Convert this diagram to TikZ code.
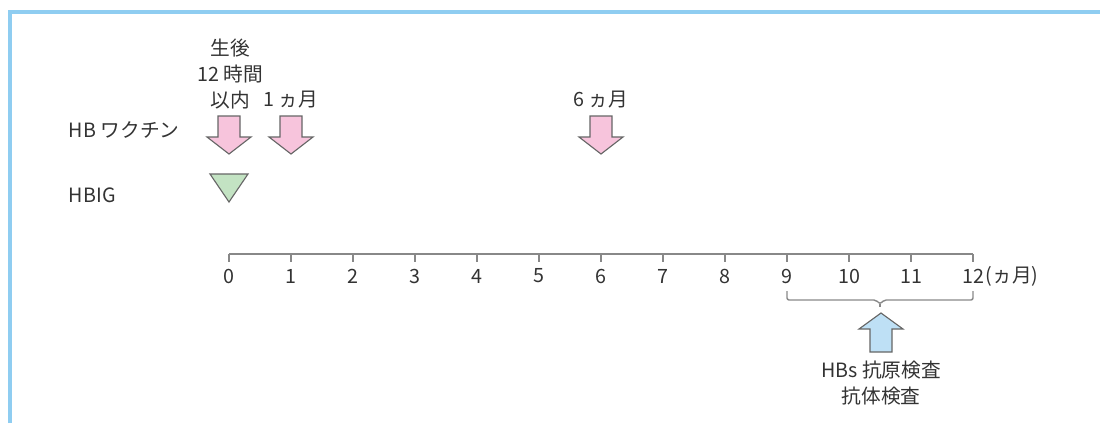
\documentclass[tikz,border=0pt]{standalone}
\usepackage{fontspec}
\setmainfont{Noto Sans CJK JP}
\usepackage{xcolor}
\usepackage{tikz}
\usetikzlibrary{positioning}
\definecolor{frameBlue}{HTML}{8FCDF1}
\definecolor{shotPink}{HTML}{F7C4DC}
\definecolor{igGreen}{HTML}{C3E3C3}
\definecolor{testBlue}{HTML}{BEE0F5}
\definecolor{axisGray}{HTML}{888888}
\definecolor{textGray}{HTML}{333333}

\begin{document}
\begin{tikzpicture}[x=0.025cm, y=-0.025cm, font=\fontsize{14}{18.5}\selectfont, text=textGray,
    mark shape/.style={draw=black!60, line width=0.8pt, line join=miter}]
    \useasboundingbox (0,0) rectangle (1100,423);
    \draw[frameBlue, line width=2.2pt] (10,423) -- (10,12) -- (1100,12);
    % time axis in months
    \draw[axisGray, line width=1.4pt] (229,254) -- (973,254);
    \foreach \m in {0,...,12} {
        \draw[axisGray, line width=1pt] ({229+62*\m},254) -- ({229+62*\m},262);
        \node[inner sep=1pt] (t\m) at ({229+62*\m},276) {\m};
    }
    \node[anchor=west, inner sep=0pt] (unit) at (t12.east) {(ヵ月)};
    % rows
    \node[anchor=west] (vac) at (64,130) {HB ワクチン};
    \node[anchor=west] (hbig) at (64,195) {HBIG};
    \node[align=center] (birth) at (230,74) {生後\\12 時間\\以内};
    \node (one) at (291,100) {1 ヵ月};
    \node (six) at (601,100) {6 ヵ月};
    \foreach \m in {0,1,6}
        \draw[mark shape, fill=shotPink] ({229+62*\m-11},116) -- ++(22,0) -- ++(0,21) -- ++(11,0)
            -- ++(-22,17) -- ++(-22,-17) -- ++(11,0) -- cycle;
    \draw[mark shape, fill=igGreen] (210,174) -- (248,174) -- (229,202) -- cycle;
    % test window 9--12 months
    \draw[axisGray, line width=1pt, rounded corners=1.5pt] (787,291) |- (876,300) -- (880,304) -- (884,300) -| (973,291);
    \draw[axisGray, line width=1pt] (880,304) -- (880,307);
    \draw[mark shape, fill=testBlue] (870,352) -- ++(0,-23) -- ++(-11,0) -- ++(22,-16) -- ++(22,16)
        -- ++(-11,0) -- ++(0,23) -- cycle;
    \node[align=center] (test) at (881,383) {HBs 抗原検査\\抗体検査};
\end{tikzpicture}
\end{document}
